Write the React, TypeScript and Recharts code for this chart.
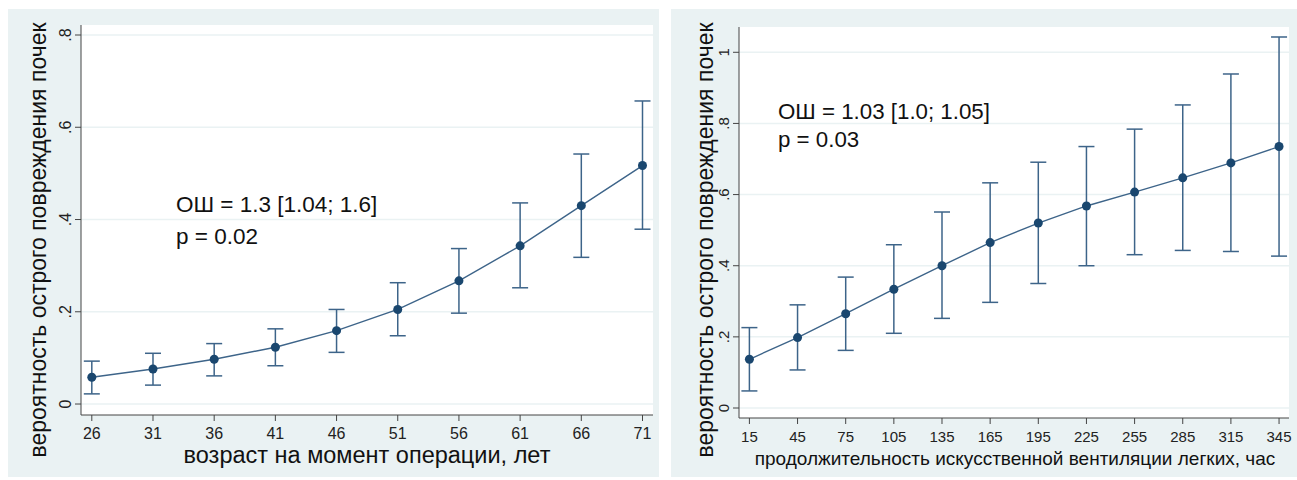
import { ComposedChart, Line, ErrorBar, XAxis, YAxis, CartesianGrid, Label } from 'recharts'

// возраст на момент операции
const ageX = [26, 31, 36, 41, 46, 51, 56, 61, 66, 71]
const ageProb = [0.058, 0.076, 0.097, 0.123, 0.159, 0.205, 0.267, 0.343, 0.43, 0.517]
const ageLow = [0.022, 0.041, 0.061, 0.083, 0.112, 0.148, 0.197, 0.252, 0.318, 0.379]
const ageHigh = [0.093, 0.11, 0.131, 0.163, 0.205, 0.263, 0.337, 0.436, 0.542, 0.657]
const ageYTicks = [0, 0.2, 0.4, 0.6, 0.8]

// продолжительность ИВЛ
const ventX = [15, 45, 75, 105, 135, 165, 195, 225, 255, 285, 315, 345]
const ventProb = [0.137, 0.198, 0.265, 0.334, 0.4, 0.465, 0.52, 0.568, 0.607, 0.647, 0.689, 0.735]
const ventLow = [0.048, 0.107, 0.162, 0.21, 0.252, 0.297, 0.35, 0.4, 0.431, 0.443, 0.44, 0.427]
const ventHigh = [0.226, 0.29, 0.368, 0.459, 0.551, 0.633, 0.691, 0.735, 0.784, 0.852, 0.939, 1.043]
const ventYTicks = [0, 0.2, 0.4, 0.6, 0.8, 1]

const yTitle = 'вероятность острого повреждения почек'

const FONT = '"Liberation Sans", Arial, sans-serif'
const BG = '#EAF2F3'
const MARKER = '#1A476F'
const LINE = '#3D6489'
const AXIS = '#444'

const toRows = (xs: number[], p: number[], lo: number[], hi: number[]) =>
  xs.map((x, i) => ({ x, p: p[i], err: [p[i] - lo[i], hi[i] - p[i]] }))

const ageData = toRows(ageX, ageProb, ageLow, ageHigh)
const ventData = toRows(ventX, ventProb, ventLow, ventHigh)

const fmtY = (v: number) => (v === 0 ? '0' : Number.isInteger(v) ? String(v) : String(v).replace(/^0/, ''))

const RotTick = (props: any) => {
  const { x, y, payload, size } = props
  return (
    <text
      x={x}
      y={y}
      transform={`rotate(-90 ${x} ${y})`}
      textAnchor="middle"
      fontSize={size}
      fontFamily={FONT}
      fill="#222"
    >
      {fmtY(payload.value)}
    </text>
  )
}

interface PanelProps {
  data: { x: number; p: number; err: number[] }[]
  xTicks: number[]
  yTicks: number[]
  xDomain: [number, number]
  yDomain: [number, number]
  width: number
  height: number
  plotLeft: number
  plotTop: number
  plotW: number
  plotH: number
  xTitle: string
  xTitleSize: number
  xTitlePos: [number, number]
  yTitlePos: [number, number]
  note: string[]
  notePos: [number, number]
  noteSize: number
  noteGap: number
  xTickMargin: number
  yTickMargin: number
  tickSize: number
}

function Panel(props: PanelProps) {
  const { width, height, plotLeft, plotTop, plotW, plotH } = props
  const texts = () => (
    <g fontFamily={FONT} fill="#111">
      <text
        x={props.xTitlePos[0]}
        y={props.xTitlePos[1]}
        textAnchor="middle"
        fontSize={props.xTitleSize}
      >
        {props.xTitle}
      </text>
      <text
        x={props.yTitlePos[0]}
        y={props.yTitlePos[1]}
        transform={`rotate(-90 ${props.yTitlePos[0]} ${props.yTitlePos[1]})`}
        textAnchor="middle"
        fontSize={23}
      >
        {yTitle}
      </text>
      {props.note.map((line, i) => (
        <text
          key={i}
          x={props.notePos[0]}
          y={props.notePos[1] + i * props.noteGap}
          fontSize={props.noteSize}
        >
          {line}
        </text>
      ))}
    </g>
  )

  return (
    <div style={{ width, height, background: BG }}>
      <ComposedChart
        width={width}
        height={height}
        data={props.data}
        margin={{ top: plotTop, right: width - plotLeft - plotW, bottom: 0, left: 0 }}
      >
        <CartesianGrid vertical={false} horizontalValues={props.yTicks} stroke={BG} strokeWidth={1.5} fill="#fff" />
        <XAxis
          type="number"
          dataKey="x"
          domain={props.xDomain}
          ticks={props.xTicks}
          allowDataOverflow
          height={height - plotTop - plotH}
          tickSize={6}
          tickMargin={props.xTickMargin}
          stroke={AXIS}
          tick={{ fontSize: props.tickSize, fontFamily: FONT, fill: '#222' }}
        >
          <Label content={texts} />
        </XAxis>
        <YAxis
          type="number"
          domain={props.yDomain}
          ticks={props.yTicks}
          allowDataOverflow
          width={plotLeft}
          tickSize={6}
          tickMargin={props.yTickMargin}
          stroke={AXIS}
          tick={<RotTick size={props.tickSize} />}
        />
        <Line
          dataKey="p"
          stroke={LINE}
          strokeWidth={1.4}
          dot={{ r: 4.5, fill: MARKER, stroke: MARKER, strokeWidth: 0 }}
          activeDot={false}
          isAnimationActive={false}
        >
          <ErrorBar dataKey="err" width={8} stroke={LINE} strokeWidth={1.5} direction="y" />
        </Line>
      </ComposedChart>
    </div>
  )
}

export default function App() {
  return (
    <div style={{ position: 'absolute', left: 0, top: 0, width: 1297, height: 480, background: '#fff' }}>
      <div style={{ position: 'absolute', left: 8, top: 9 }}>
        <Panel
          data={ageData}
          xTicks={ageX}
          yTicks={ageYTicks}
          xDomain={[25.117, 71.858]}
          yDomain={[-0.0238, 0.8217]}
          width={651}
          height={468}
          plotLeft={73}
          plotTop={16}
          plotW={572}
          plotH={390}
          xTitle="возраст на момент операции, лет"
          xTitleSize={23.5}
          xTitlePos={[359, 454]}
          yTitlePos={[38, 231]}
          note={['ОШ = 1.3 [1.04; 1.6]', 'p = 0.02']}
          notePos={[168, 203]}
          noteSize={22.5}
          noteGap={32}
          xTickMargin={7}
          yTickMargin={4}
          tickSize={16}
        />
      </div>
      <div style={{ position: 'absolute', left: 671, top: 9 }}>
        <Panel
          data={ventData}
          xTicks={ventX}
          yTicks={ventYTicks}
          xDomain={[8.52, 351.2]}
          yDomain={[-0.0281, 1.0711]}
          width={626}
          height={468}
          plotLeft={68}
          plotTop={18}
          plotW={550}
          plotH={391}
          xTitle="продолжительность искусственной вентиляции легких, час"
          xTitleSize={19}
          xTitlePos={[344, 456]}
          yTitlePos={[42, 231]}
          note={['ОШ = 1.03 [1.0; 1.05]', 'p = 0.03']}
          notePos={[107, 110]}
          noteSize={22.3}
          noteGap={28}
          xTickMargin={7}
          yTickMargin={4}
          tickSize={15}
        />
      </div>
    </div>
  )
}
